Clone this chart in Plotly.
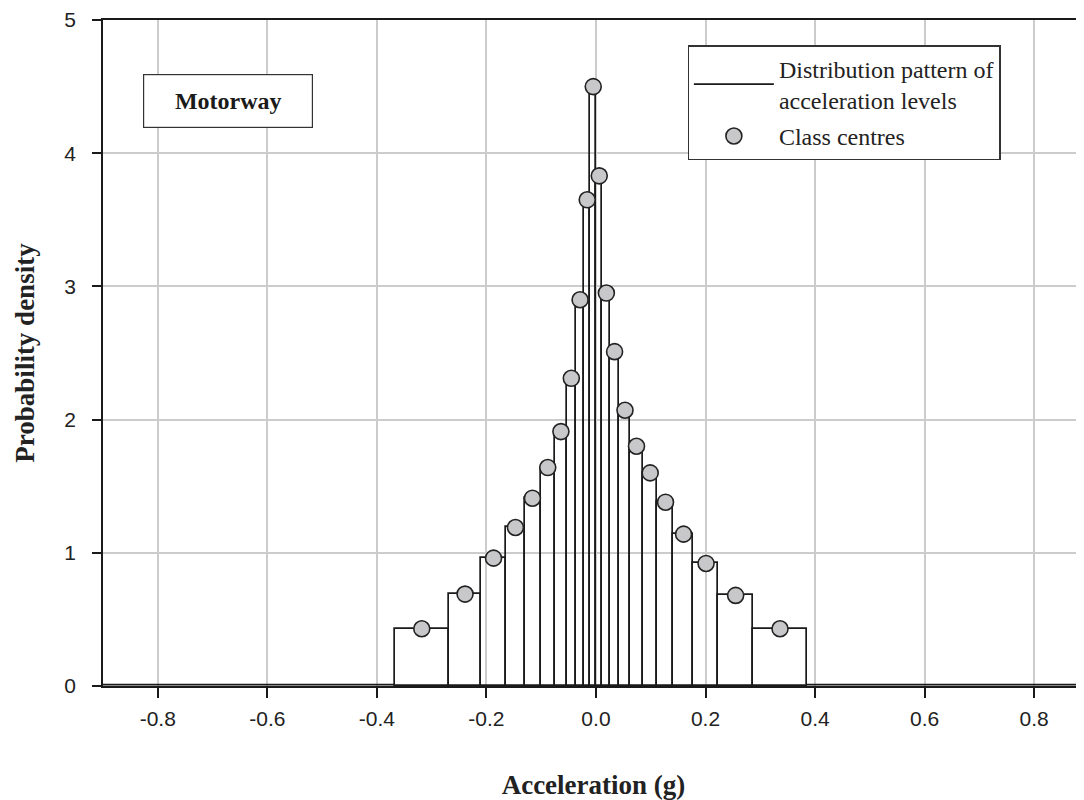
import numpy as np
import plotly.graph_objects as go

# class boundaries (g) and probability density per class
class_edges = [-0.367, -0.268, -0.209, -0.164, -0.130, -0.101, -0.074, -0.053,
               -0.036, -0.021, -0.010, 0.000, 0.011, 0.026, 0.042, 0.063,
               0.085, 0.112, 0.141, 0.178, 0.223, 0.286, 0.385]
density = [0.43, 0.69, 0.96, 1.19, 1.41, 1.64, 1.91, 2.31, 2.90, 3.65, 4.50,
           3.83, 2.95, 2.51, 2.07, 1.80, 1.60, 1.38, 1.14, 0.92, 0.68, 0.43]
class_centres = [-0.318, -0.239, -0.187, -0.147, -0.116, -0.088, -0.064, -0.045,
                 -0.029, -0.016, -0.005, 0.006, 0.019, 0.034, 0.053, 0.074,
                 0.099, 0.127, 0.160, 0.201, 0.255, 0.336]
# tails of the distribution outside the classes
tail_x = [-0.9, -0.367, None, 0.385, 0.9]
tail_density = [0.01, 0.01, None, 0.01, 0.01]

x_ticks = [-0.8, -0.6, -0.4, -0.2, 0.0, 0.2, 0.4, 0.6, 0.8]
y_ticks = [0, 1, 2, 3, 4, 5]

edges = np.array(class_edges)
bar_mid = (edges[:-1] + edges[1:]) / 2
bar_w = edges[1:] - edges[:-1]

SERIF = "Liberation Serif, Times New Roman, serif"
SANS = "Liberation Sans, Arial, sans-serif"

fig = go.Figure()
fig.add_trace(go.Bar(
    x=bar_mid, y=density, width=bar_w, base=0,
    marker=dict(color="rgba(0,0,0,0)", line=dict(color="#1a1a1a", width=1.7)),
    showlegend=False, hoverinfo="skip"))
fig.add_trace(go.Scatter(
    x=tail_x, y=tail_density, mode="lines",
    line=dict(color="#1a1a1a", width=1.7),
    name="Distribution pattern of<br>acceleration levels", legendgroup="a"))
fig.add_trace(go.Scatter(
    x=class_centres, y=density, mode="markers",
    marker=dict(symbol="circle", size=16, color="#c8c8ca",
                line=dict(color="#222222", width=1.6)),
    name="Class centres", legendgroup="b"))

fig.add_annotation(
    x=-0.672, y=4.39, xref="x", yref="y", text="<b>Motorway</b>",
    showarrow=False, width=166, height=50,
    font=dict(family=SERIF, size=24, color="#1a1a1a"),
    bordercolor="#333333", borderwidth=1.2, bgcolor="white")

# the page body has an 8 px margin: size the figure so the plot area
# sits where the reference has it
fig.update_layout(
    width=1076, height=792,
    margin=dict(l=95, r=0, t=10, b=114),
    plot_bgcolor="white", paper_bgcolor="white",
    bargap=0,
    legend=dict(x=0.596, y=0.962, xanchor="left", yanchor="top",
                bgcolor="white", bordercolor="#333333", borderwidth=1.2,
                font=dict(family=SERIF, size=24, color="#222222"),
                tracegroupgap=2, itemwidth=80),
    xaxis=dict(range=[-0.9, 0.891], tickvals=x_ticks,
               ticktext=[f"{v:.1f}" for v in x_ticks],
               showgrid=True, gridcolor="#cccccc", gridwidth=1.5,
               showline=True, linecolor="#1a1a1a", linewidth=1.5, mirror=True,
               ticks="outside", ticklen=10, tickcolor="#1a1a1a", tickwidth=1.5,
               ticklabelstandoff=3, ticklabeloverflow="allow",
               tickfont=dict(family=SANS, size=21, color="#222222"),
               zeroline=False,
               title=dict(text="<b>Acceleration (g)</b>", standoff=48,
                          font=dict(family=SERIF, size=27, color="#222222"))),
    yaxis=dict(range=[0, 5], tickvals=y_ticks,
               showgrid=True, gridcolor="#cccccc", gridwidth=1.5,
               showline=True, linecolor="#1a1a1a", linewidth=1.5,
               ticks="outside", ticklen=9, tickcolor="#1a1a1a", tickwidth=1.5,
               ticklabelstandoff=12, ticklabeloverflow="allow",
               tickfont=dict(family=SANS, size=21, color="#222222"),
               zeroline=False,
               title=dict(text="<b>Probability density</b>", standoff=22,
                          font=dict(family=SERIF, size=27, color="#222222"))),
)

fig.write_html("out.html")
